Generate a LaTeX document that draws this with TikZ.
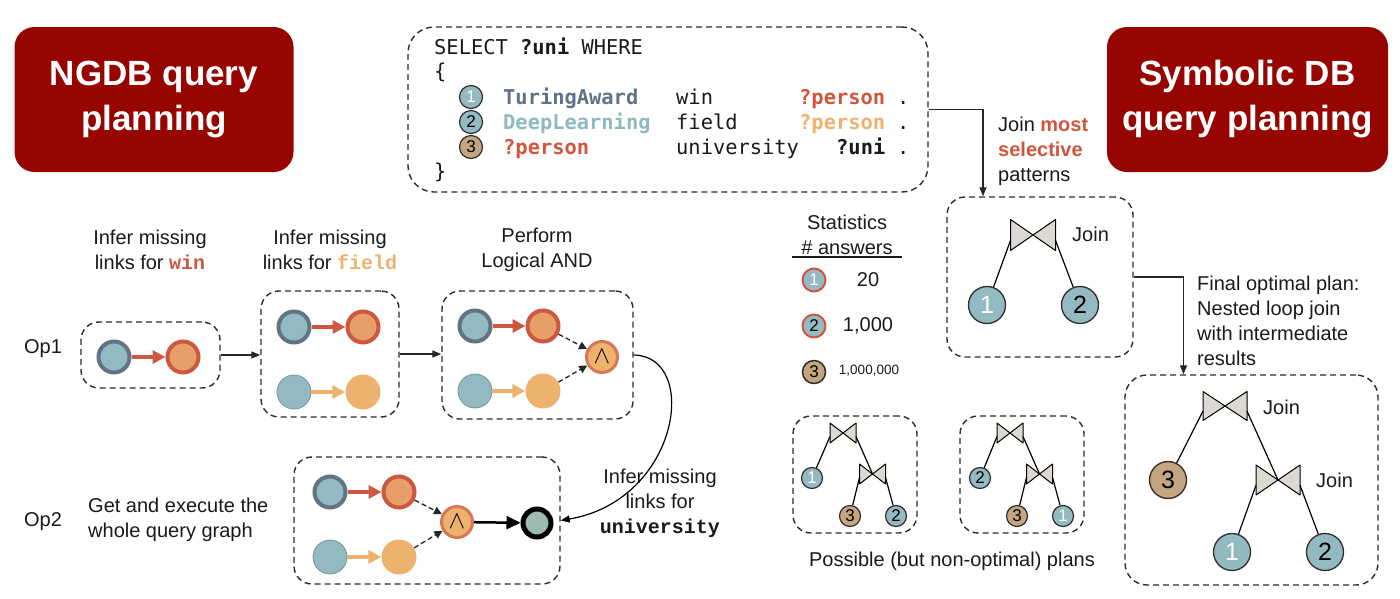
\documentclass[tikz,border=0pt]{standalone}
\usepackage{fontspec}
\setmainfont{Liberation Sans}
\newfontfamily\qmono{DejaVu Sans Mono}
\newfontfamily\cmono{Liberation Mono}
\usetikzlibrary{arrows.meta}
\definecolor{titlered}{RGB}{150,5,0}
\definecolor{boxgray}{RGB}{40,44,46}
\definecolor{txt}{RGB}{26,26,26}
\definecolor{slate}{RGB}{98,116,132}
\definecolor{tealf}{RGB}{147,186,193}
\definecolor{ared}{RGB}{204,88,66}
\definecolor{aorange}{RGB}{238,178,111}
\definecolor{aorange2}{RGB}{232,158,104}
\definecolor{andring}{RGB}{214,120,86}
\definecolor{resfill}{RGB}{158,184,178}
\definecolor{qslate}{RGB}{94,115,134}
\definecolor{qteal}{RGB}{143,185,193}
\definecolor{qred}{RGB}{208,86,62}
\definecolor{tanf}{RGB}{196,165,128}
\definecolor{pdark}{RGB}{45,45,45}
\definecolor{bowf}{RGB}{220,216,210}
\newcommand\myTitle{\fontsize{35}{45}\selectfont\bfseries}
\newcommand\myBody{\fontsize{20}{25}\selectfont}
\newcommand\myQ{\qmono\fontsize{20.4}{25}\selectfont}
\tikzset{
  pics/btie/.style 2 args={code={
    \filldraw[fill=bowf, draw=black, line width=1pt, line join=round]
      (-#1,-#2) -- (-#1,#2) -- (#1,-#2) -- (#1,#2) -- cycle;
    \coordinate (-l) at (-#1,0.35*#2);
    \coordinate (-r) at (#1,0.35*#2);
    \coordinate (-c) at (0,0);
  }}
}
\begin{document}
\begin{tikzpicture}[x=1pt,y=-1pt,
  dbox/.style={draw=boxgray, line width=1.4pt, dash pattern=on 6pt off 4pt, rounded corners=18pt, inner sep=0pt},
  ttl/.style={fill=titlered, rounded corners=20pt, text=white, font=\myTitle, align=center, inner sep=0pt},
  lbl/.style={font=\myBody, align=center, inner sep=0pt, text=txt},
  lbll/.style={font=\myBody, align=left, inner sep=0pt, text=txt},
  src/.style={circle, draw=slate, line width=4pt, fill=tealf, minimum size=31pt, inner sep=0pt},
  tgt/.style={circle, draw=ared, line width=4pt, fill=aorange2, minimum size=31pt, inner sep=0pt},
  srcb/.style={circle, draw=tealf!80!black, line width=0.8pt, fill=tealf, minimum size=34pt, inner sep=0pt},
  tgtb/.style={circle, fill=aorange, minimum size=35pt, inner sep=0pt},
  andn/.style={circle, draw=andring, line width=3pt, fill=aorange, minimum size=31pt, inner sep=0pt, font=\fontsize{26}{26}\selectfont},
  resn/.style={circle, draw=black, line width=5pt, fill=resfill, minimum size=28pt, inner sep=0pt},
  redarr/.style={draw=ared, line width=3.5pt, -{Triangle[length=13pt,width=13pt]}},
  orarr/.style={draw=aorange, line width=3.5pt, -{Triangle[length=13pt,width=13pt]}},
  dasharr/.style={draw=black!85, line width=1.3pt, dash pattern=on 5pt off 3pt, -{Triangle[length=8pt,width=8pt]}},
  thickarr/.style={draw=black, line width=2.5pt, -{Triangle[length=14pt,width=13pt]}},
  conn/.style={draw=black!85, line width=1.3pt, -{Triangle[length=9pt,width=7pt]}},
  qtxt/.style={font=\myQ, inner sep=0pt, anchor=base west, text=txt},
  qc/.style={circle, draw=pdark, line width=1.2pt, fill=tealf, minimum size=23pt, inner sep=0pt, font=\fontsize{17}{17}\selectfont},
  pc/.style={circle, draw=pdark, line width=1.3pt, fill=tealf, minimum size=37pt, inner sep=0pt, font=\fontsize{25}{25}\selectfont},
  spc/.style={circle, draw=pdark, line width=1.2pt, fill=tealf, minimum size=21pt, inner sep=0pt, font=\fontsize{17}{17}\selectfont},
  stc/.style={circle, draw=ared, line width=2pt, fill=tealf, minimum size=23pt, inner sep=0pt, font=\fontsize{17}{17}\selectfont},
  pline/.style={draw=black, line width=1.2pt},
  jl/.style={font=\myBody, inner sep=0pt, anchor=west, text=txt}
]
\useasboundingbox (0,0) rectangle (1400,598);

% titles
\node[ttl, minimum width=279pt, minimum height=145pt] (ngdb) at (154,99.5) {NGDB query\\planning};
\node[ttl, minimum width=281pt, minimum height=145pt] (symb) at (1247.5,99.5) {Symbolic DB\\query planning};

% query box
\node[dbox, rounded corners=26pt, minimum width=520pt, minimum height=165pt] (query) at (668,109.5) {};
\node[qtxt] (qsel) at (434,54) {SELECT \textbf{?uni} WHERE};
\node[qtxt] (qob) at (434,78) {\{};
\node[qtxt] (qcb) at (434,178) {\}};
\node[qc, text=white] (q1) at (471,97) {1};
\node[qc, text=black] (q2) at (471,122) {2};
\node[qc, fill=tanf, text=black] (q3) at (471,147) {3};
\node[qtxt, text=qslate] (q1a) at (503,104) {\textbf{TuringAward}};
\node[qtxt] (q1b) at (676,104) {win};
\node[qtxt, text=qred] (q1c) at (799,104) {\textbf{?person}};
\node[qtxt] (q1d) at (897,104) {.};
\node[qtxt, text=qteal] (q2a) at (503,129) {\textbf{DeepLearning}};
\node[qtxt] (q2b) at (676,129) {field};
\node[qtxt, text=aorange] (q2c) at (799,129) {\textbf{?person}};
\node[qtxt] (q2d) at (897,129) {.};
\node[qtxt, text=qred] (q3a) at (503,154) {\textbf{?person}};
\node[qtxt] (q3b) at (676,154) {university};
\node[qtxt] (q3c) at (836,154) {\textbf{?uni}};
\node[qtxt] (q3d) at (897,154) {.};

% NGDB labels
\node[lbl] (l1) at (150,250) {Infer missing\\links for {\cmono\bfseries\textcolor{ared}{win}}};
\node[lbl] (l2) at (330,250) {Infer missing\\links for {\cmono\bfseries\textcolor{aorange}{field}}};
\node[lbl] (l3) at (537,250) {Perform\\Logical AND};
\node[lbl] (op1) at (43,349) {Op1};
\node[lbl] (op2) at (43,522) {Op2};
\node[lbll, anchor=west] (l4) at (88,520) {Get and execute the\\whole query graph};
\node[lbl] (l5) at (660,503) {Infer missing\\links for\\{\cmono\bfseries university}};

% Op boxes
\node[dbox, minimum width=139pt, minimum height=66pt] (b1) at (150.5,355) {};
\node[dbox, minimum width=138pt, minimum height=126pt] (b2) at (330,354) {};
\node[dbox, minimum width=191pt, minimum height=128pt] (b3) at (537.5,355) {};
\node[dbox, minimum width=266pt, minimum height=127pt] (b4) at (427,520.5) {};

% box1
\node[src] (a1) at (114,357) {};
\node[tgt] (a2) at (183,357) {};
\draw[redarr] (a1) -- (a2);
% box2
\node[src] (c1) at (294,327) {};
\node[tgt] (c2) at (363,327) {};
\node[srcb] (c3) at (294,392) {};
\node[tgtb] (c4) at (363,392) {};
\draw[redarr] (c1) -- (c2);
\draw[orarr] (c3) -- (c4);
% box3
\node[src] (d1) at (475,326) {};
\node[tgt] (d2) at (543,326) {};
\node[srcb] (d3) at (475,391) {};
\node[tgtb] (d4) at (543,391) {};
\node[andn] (dand) at (602,357) {$\wedge$};
\draw[redarr] (d1) -- (d2);
\draw[orarr] (d3) -- (d4);
\draw[dasharr] (d2) -- (dand);
\draw[dasharr] (d4) -- (dand);
% op2 box
\node[src] (e1) at (330,492) {};
\node[tgt] (e2) at (399,492) {};
\node[srcb] (e3) at (330,557) {};
\node[tgtb] (e4) at (399,557) {};
\node[andn] (eand) at (457,522) {$\wedge$};
\node[resn] (eres) at (537,523) {};
\draw[redarr] (e1) -- (e2);
\draw[orarr] (e3) -- (e4);
\draw[dasharr] (e2) -- (eand);
\draw[dasharr] (e4) -- (eand);
\draw[thickarr] (eand) -- (eres);

% connectors between boxes
\draw[conn] (b1.east) -- (b1.east -| b2.west);
\draw[conn] (b2.east) -- (b2.east -| b3.west);
\draw[draw=black, line width=1.2pt, -{Triangle[length=9pt,width=7pt]}] (b3.east) .. controls (700,356) and (680,500) .. (b4.east);

% ---------- symbolic side ----------
\node[lbll, anchor=west] (jms) at (998,151) {Join \textcolor{qred}{\textbf{most}}\\\textcolor{qred}{\textbf{selective}}\\patterns};
\node[dbox, minimum width=186pt, minimum height=160pt] (jbox) at (1040,277) {};
\draw[conn] (query.east) -| ([xshift=-57pt]jbox.north);

% statistics
\node[lbl] (stt) at (847,235) {Statistics\\\# answers};
\draw[line width=2.5pt, draw=txt] (792,257) -- (902,257);
\node[stc, text=white] (s1) at (814,280) {1};
\node[stc, text=black] (s2) at (814,326) {2};
\node[stc, draw=pdark, line width=1.5pt, fill=tanf, text=black] (s3) at (814,372) {3};
\node[lbl] (s1v) at (868,280) {20};
\node[lbl] (s2v) at (868,326) {1,000};
\node[lbl, font=\fontsize{13.5}{13.5}\selectfont] (s3v) at (869,371) {1,000,000};

% join box 1 tree
\pic (bt1) at (1033,235) {btie={22.5}{15.5}};
\node[jl] (jl1) at (1072,234) {Join};
\node[pc, text=white] (j1) at (987,305) {1};
\node[pc, text=black] (j2) at (1080,305) {2};
\draw[pline] (bt1-l) -- (j1);
\draw[pline] (bt1-r) -- (j2);

% possible plans
\node[dbox, minimum width=124pt, minimum height=117pt] (pa) at (855,474.5) {};
\node[dbox, minimum width=124pt, minimum height=117pt] (pb) at (1022,474.5) {};
\node[lbl] (pl) at (952,561) {Possible (but non-optimal) plans};
% plan A
\pic (pat) at (843,433) {btie={13}{10}};
\pic (pal) at (872.5,474) {btie={13}{10}};
\node[spc, text=white] (pa1) at (812,478) {1};
\node[spc, fill=tanf, text=black] (pa3) at (850,516) {3};
\node[spc, text=black] (pa2) at (896,516) {2};
\draw[pline] (pat-l) -- (pa1);
\draw[pline] (pat-r) -- (pal-c);
\draw[pline] (pal-l) -- (pa3);
\draw[pline] (pal-r) -- (pa2);
% plan B
\pic (pbt) at (1010,433) {btie={13}{10}};
\pic (pbl) at (1039.5,474) {btie={13}{10}};
\node[spc, text=black] (pb2) at (980,478) {2};
\node[spc, fill=tanf, text=black] (pb3) at (1017,516) {3};
\node[spc, text=white] (pb1) at (1063,516) {1};
\draw[pline] (pbt-l) -- (pb2);
\draw[pline] (pbt-r) -- (pbl-c);
\draw[pline] (pbl-l) -- (pb3);
\draw[pline] (pbl-r) -- (pb1);

% final plan
\node[lbll, anchor=west] (fin) at (1197,321) {Final optimal plan:\\Nested loop join\\with intermediate\\results};
\node[dbox, rounded corners=22pt, minimum width=253pt, minimum height=210pt] (fbox) at (1251.5,480) {};
\draw[conn] (jbox.east) -| ([xshift=-68pt]fbox.north);
\pic (ft) at (1225,406) {btie={22}{14.5}};
\pic (fl) at (1278,480) {btie={22}{15}};
\node[jl] (fj1) at (1263,407) {Join};
\node[jl] (fj2) at (1316,480) {Join};
\node[pc, fill=tanf, text=black] (f3) at (1168,480) {3};
\node[pc, text=white] (f1) at (1232,552) {1};
\node[pc, text=black] (f2) at (1325,552) {2};
\draw[pline] (ft-l) -- (f3);
\draw[pline] (ft-r) -- (fl-c);
\draw[pline] (fl-l) -- (f1);
\draw[pline] (fl-r) -- (f2);
\end{tikzpicture}
\end{document}
